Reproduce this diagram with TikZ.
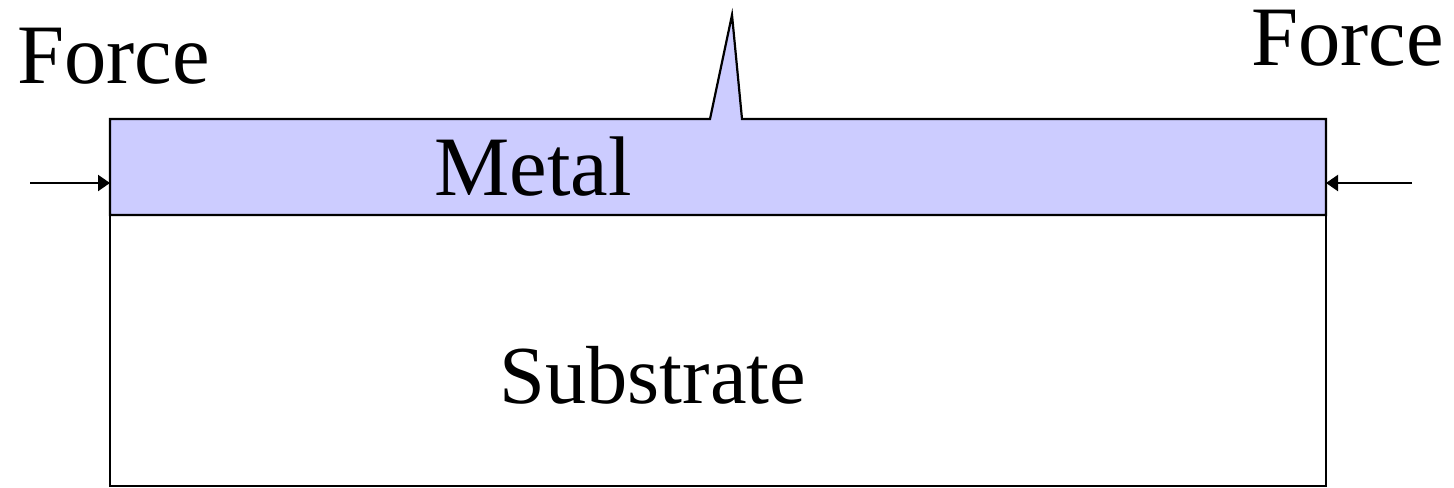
\documentclass[tikz,border=0pt]{standalone}
\usepackage{fontspec}
\setmainfont{Liberation Serif}
\usetikzlibrary{arrows.meta}
\definecolor{metalblue}{RGB}{204,204,255}
\tikzset{
  label text/.style={inner sep=0pt,anchor=base west,font=\fontsize{42.3}{50}\selectfont},
  force arrow/.style={-{Triangle[length=6pt,width=8pt]},line width=1.1pt},
  layer/.style={line width=1.1pt,draw=black}
}
\begin{document}
\begin{tikzpicture}[x=0.5pt,y=-0.5pt,>=Stealth]
\useasboundingbox (0,0) rectangle (1454,487);
% ---- substrate ----
\draw[layer] (110,215) rectangle (1326,486);
% ---- metal film with the spike ----
\draw[layer,fill=metalblue,line join=miter]
  (110,215) -- (110,119) -- (710,119) -- (732,15) -- (742,119)
  -- (1326,119) -- (1326,215) -- cycle;
% ---- labels ----
\node[label text] (forceL) at (17,83) {Force};
\node[label text] (forceR) at (1251,65) {Force};
\node[label text] (metal) at (434,195) {Metal};
\node[label text,font=\fontsize{41.2}{49}\selectfont] (substrate) at (499,403) {Substrate};
% ---- applied forces ----
\coordinate (leftA) at (30,183);
\coordinate (leftB) at (110,183);
\coordinate (rightA) at (1412,183);
\coordinate (rightB) at (1326,183);
\draw[force arrow] (leftA) -- (leftB);
\draw[force arrow] (rightA) -- (rightB);
\end{tikzpicture}
\end{document}
